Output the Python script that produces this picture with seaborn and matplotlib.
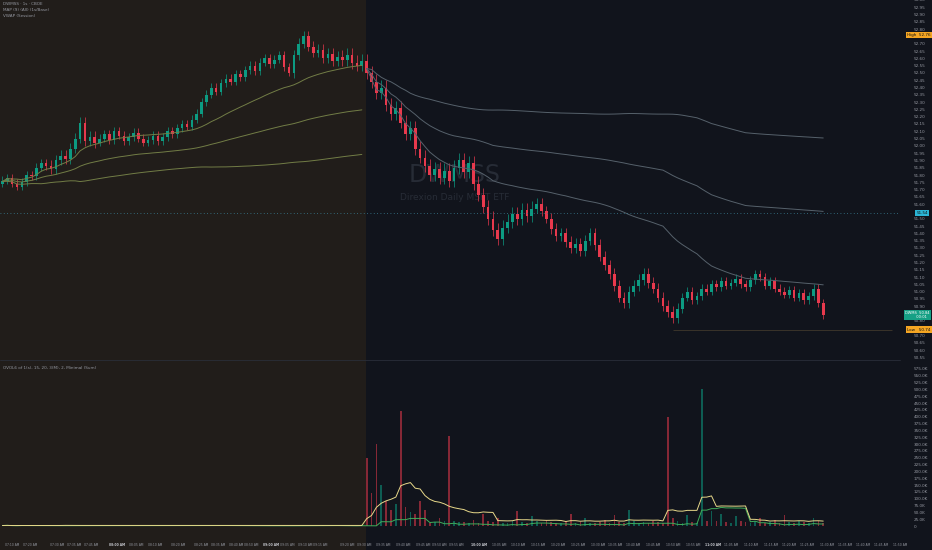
import matplotlib
matplotlib.use("Agg")
import matplotlib.pyplot as plt
from matplotlib.patches import Rectangle
import numpy as np
import pandas as pd
import seaborn as sns

sns.set_theme(style="dark")
plt.rcParams["font.family"] = ["DejaVu Sans"]

BG = "#11141c"
PRE_BG = "#211d1a"
TXT = "#9598a1"
UP = "#0c9b82"
DN = "#e8394d"

# closes, one candle per step (premarket = first 75)
closes = [
    51.76, 51.78, 51.74, 51.72, 51.75, 51.80, 51.79, 51.85, 51.88, 51.86,
    51.84, 51.90, 51.93, 51.91, 51.98, 52.05, 52.16, 52.03, 52.06, 52.02,
    52.05, 52.08, 52.04, 52.10, 52.07, 52.03, 52.06, 52.09, 52.05, 52.02,
    52.04, 52.07, 52.03, 52.06, 52.10, 52.08, 52.12, 52.15, 52.13, 52.18,
    52.22, 52.30, 52.35, 52.40, 52.37, 52.43, 52.46, 52.44, 52.49, 52.47,
    52.52, 52.55, 52.51, 52.57, 52.60, 52.56, 52.59, 52.62, 52.54, 52.50,
    52.62, 52.70, 52.75, 52.68, 52.64, 52.66, 52.60, 52.63, 52.58, 52.61,
    52.59, 52.62, 52.57, 52.55, 52.58, 52.50, 52.44, 52.36, 52.40, 52.28,
    52.22, 52.26, 52.16, 52.08, 52.12, 51.98, 51.92, 51.86, 51.80, 51.84,
    51.78, 51.83, 51.76, 51.85, 51.90, 51.82, 51.88, 51.74, 51.66, 51.58,
    51.50, 51.42, 51.36, 51.44, 51.48, 51.53, 51.50, 51.56, 51.52, 51.57,
    51.60, 51.55, 51.50, 51.43, 51.38, 51.40, 51.34, 51.30, 51.33, 51.28,
    51.35, 51.40, 51.32, 51.24, 51.18, 51.12, 51.04, 50.96, 50.92, 51.00,
    51.04, 51.08, 51.12, 51.06, 51.02, 50.96, 50.90, 50.86, 50.82, 50.88,
    50.96, 51.00, 50.94, 50.97, 51.02, 51.00, 51.05, 51.03, 51.07, 51.04,
    51.06, 51.09, 51.05, 51.03, 51.08, 51.12, 51.10, 51.04, 51.07, 51.02,
    51.00, 50.98, 51.01, 50.96, 50.99, 50.94, 50.97, 51.02, 50.92, 50.84,
]
# typical wick length for each block of 10 candles
wick_blocks = [0.03, 0.04, 0.03, 0.03, 0.03, 0.03, 0.04, 0.05, 0.05, 0.05,
               0.05, 0.04, 0.04, 0.04, 0.03, 0.03, 0.03]

# volume in thousands
volume = [
    2, 3, 1, 2, 4, 2, 1, 3, 2, 2, 3, 1, 2, 5, 2,
    1, 2, 3, 2, 1, 3, 2, 2, 1, 3, 2, 4, 2, 1, 2,
    2, 1, 3, 2, 3, 1, 2, 2, 3, 1, 4, 2, 2, 3, 1,
    2, 3, 2, 1, 3, 2, 2, 4, 1, 2, 3, 2, 1, 3, 2,
    2, 3, 5, 2, 1, 2, 3, 2, 1, 3, 2, 2, 3, 1, 4,
    250, 120, 300, 150, 90, 60, 80, 420, 70, 50,
    45, 90, 60, 12, 15, 30, 20, 330, 18, 14,
    15, 12, 22, 10, 45, 18, 15, 30, 12, 10,
    20, 55, 15, 12, 35, 18, 10, 22, 15, 12,
    10, 18, 45, 12, 15, 30, 12, 10, 15, 22,
    12, 40, 15, 12, 60, 18, 10, 15, 12, 20,
    15, 12, 400, 30, 18, 12, 40, 15, 12, 500,
    20, 55, 18, 45, 15, 12, 35, 20, 15, 12,
    18, 30, 12, 15, 22, 10, 40, 15, 12, 20,
    15, 12, 30, 18, 10,
]
PRE_N = 75
prev_close = 51.54
day_high = 52.76
day_low = 50.74

tick_px = [12, 30, 58, 75, 92, 118, 137, 157, 180, 203, 220, 238, 253, 273,
           290, 308, 323, 350, 367, 387, 407, 427, 443, 460, 483,
           504, 523, 543, 563, 583, 603, 621, 639, 659, 679, 699, 719,
           738, 758, 778, 796, 814, 834, 853, 871, 889, 908]
tick_txt = ["07:10 AM", "07:20 AM", "07:30 AM", "07:35 AM", "07:45 AM", "08:00 AM",
            "08:05 AM", "08:10 AM", "08:20 AM", "08:25 AM", "08:35 AM", "08:40 AM",
            "08:50 AM", "09:00 AM", "09:05 AM", "09:10 AM", "09:15 AM", "09:20 AM",
            "09:30 AM", "09:35 AM", "09:40 AM", "09:45 AM", "09:50 AM", "09:55 AM",
            "10:00 AM", "10:05 AM", "10:10 AM", "10:15 AM", "10:20 AM", "10:25 AM",
            "10:30 AM", "10:35 AM", "10:40 AM", "10:45 AM", "10:50 AM", "10:55 AM",
            "11:00 AM", "11:05 AM", "11:10 AM", "11:15 AM", "11:20 AM", "11:25 AM",
            "11:30 AM", "11:35 AM", "11:40 AM", "11:45 AM", "11:50 AM"]
bold_ticks = {"08:00 AM", "09:00 AM", "10:00 AM", "11:00 AM"}

PX = 4.9  # pixels per candle

# ---- candle table ----
n = len(closes)
df = pd.DataFrame({"i": np.arange(n), "close": closes, "vol": volume})
df["open"] = df["close"].shift(1).fillna(closes[0] - 0.02)
df["wick"] = [wick_blocks[k // 10] for k in range(n)]
df["high"] = df[["open", "close"]].max(axis=1) + df["wick"]
df["low"] = df[["open", "close"]].min(axis=1) - df["wick"] * 0.8
df["up"] = df["close"] >= df["open"]
df["session"] = np.where(df["i"] < PRE_N, "pre", "rth")

df["vol_ma"] = df["vol"].rolling(10, min_periods=1).mean()
df["upvol_ma"] = df["vol"].where(df["up"], 0).rolling(10, min_periods=1).mean()

# vwap + 1 sd bands per session (weighted with smoothed volume)
df["tp"] = (df["high"] + df["low"] + df["close"]) / 3
w = df["vol_ma"]
cw = w.groupby(df["session"]).cumsum()
df["vwap"] = (df["tp"] * w).groupby(df["session"]).cumsum() / cw
var = (df["tp"] ** 2 * w).groupby(df["session"]).cumsum() / cw - df["vwap"] ** 2
df["sd"] = np.sqrt(var.clip(lower=0))
df["upper"] = df["vwap"] + df["sd"]
df["lower"] = df["vwap"] - df["sd"]

# ---- figure ----
fig = plt.figure(figsize=(9.32, 5.5), dpi=100, facecolor=BG)
fig.patches.append(Rectangle((0, 0), 366 / 932, 1, transform=fig.transFigure,
                             facecolor=PRE_BG, edgecolor="none", zorder=-5))

ax = fig.add_axes([0, 1 - 358 / 550, 900 / 932, 358 / 550])
axv = fig.add_axes([0, 1 - 537 / 550, 900 / 932, 175 / 550], sharex=ax)
for a in (ax, axv):
    a.set_facecolor("none")
    for s in a.spines.values():
        s.set_visible(False)
    a.grid(False)

xmax = 900 / PX - 0.5
ax.set_xlim(-0.5, xmax)
ax.set_ylim(53.0 - 0.006857 * 358, 53.0)

col = np.where(df["up"], UP, DN)
ax.vlines(df["i"], df["low"], df["high"], colors=col, linewidth=0.5)
ax.bar(df["i"], (df["close"] - df["open"]).abs().clip(lower=0.006),
       bottom=df[["open", "close"]].min(axis=1), width=0.55, color=col, linewidth=0)

for sess, c in [("pre", "#727d46"), ("rth", "#56616b")]:
    d = df[df["session"] == sess]
    for k in ["upper", "vwap", "lower"]:
        sns.lineplot(x=d["i"], y=d[k], ax=ax, color=c, linewidth=0.7, legend=False)

ax.axhline(prev_close, color="#3a7f95", linewidth=0.6, linestyle=(0, (1, 3)))
low_i = int(df["low"].idxmin())
ax.hlines(day_low, low_i, xmax, color="#4a4030", linewidth=0.5)

tags = [day_high, prev_close, closes[-1], day_low]
yt = [v for v in np.round(np.arange(50.55, 53.0, 0.05), 2)
      if min(abs(v - t) for t in tags) > 0.03]
ax.yaxis.tick_right()
ax.set_yticks(yt)
ax.yaxis.set_major_formatter(matplotlib.ticker.FormatStrFormatter("%.2f"))
ax.tick_params(axis="y", labelsize=3, colors=TXT, length=0, pad=10)
ax.tick_params(axis="x", length=0, labelbottom=False)
ax.set_xlabel("")
ax.set_ylabel("")

def tag(a, y, txt, fc, tc="#111111", x=1.012, fs=3):
    a.text(x, y, txt, transform=a.get_yaxis_transform(), fontsize=fs, color=tc,
           ha="left", va="center", linespacing=1.1,
           bbox=dict(boxstyle="square,pad=0.3", fc=fc, ec="none"))

tag(ax, day_high, "High  52.76", "#f5a623", x=1.008)
tag(ax, prev_close, "51.54", "#2bb5d6", x=1.018)
tag(ax, closes[-1], "DWMS  50.84\n          00:01", "#16a085", tc="white", x=1.006, fs=2.6)
tag(ax, day_low, "Low   50.74", "#f5a623", x=1.008)

# watermark
ax.text(455 / 900, 1 - 175 / 358, "DWMSS", transform=ax.transAxes, fontsize=17,
        color="#272c36", ha="center", va="center", zorder=0)
ax.text(455 / 900, 1 - 198 / 358, "Direxion Daily MSFT ETF", transform=ax.transAxes,
        fontsize=6.5, color="#272c36", ha="center", va="center", zorder=0)

for k, t in enumerate(["DWMSS · 1s · CBOE", "MAP (9) (All) (1s/Base)", "VWAP (Session)"]):
    fig.text(3 / 932, 1 - (4 + 6 * k) / 550, t, fontsize=3, color=TXT, va="center")
fig.text(3 / 932, 1 - 368 / 550, "OVOL6 of 1(s), 15, 20, 3(M), 2, Minimal (Sum)",
         fontsize=3, color=TXT, va="center")
fig.add_artist(plt.Line2D([0, 900 / 932], [1 - 360 / 550] * 2, color="#2a2e39",
                          linewidth=0.6, transform=fig.transFigure))

# ---- volume pane ----
axv.bar(df["i"], df["vol"], width=0.35, color=col, alpha=0.55, linewidth=0)
sns.lineplot(x=df["i"], y=df["upvol_ma"], ax=axv, color="#3fae5a", linewidth=0.7)
sns.lineplot(x=df["i"], y=df["vol_ma"], ax=axv, color="#e8d98a", linewidth=0.7)
axv.set_ylim(-40, 600)
axv.yaxis.tick_right()
vt = np.arange(0, 600, 25)
axv.set_yticks(vt)
axv.set_yticklabels(["0" if v == 0 else f"{v:.1f}K" for v in vt])
axv.tick_params(axis="y", labelsize=3, colors=TXT, length=0, pad=10)
axv.set_xlabel("")
axv.set_ylabel("")

axv.set_xticks([p / PX - 0.5 for p in tick_px])
axv.set_xticklabels(tick_txt)
axv.tick_params(axis="x", labelsize=2.2, colors=TXT, length=0, pad=4)
for lab in axv.get_xticklabels():
    if lab.get_text() in bold_ticks:
        lab.set_fontweight("bold")
        lab.set_color("#c8cad0")

fig.savefig("out.png", dpi=100, facecolor=BG)
